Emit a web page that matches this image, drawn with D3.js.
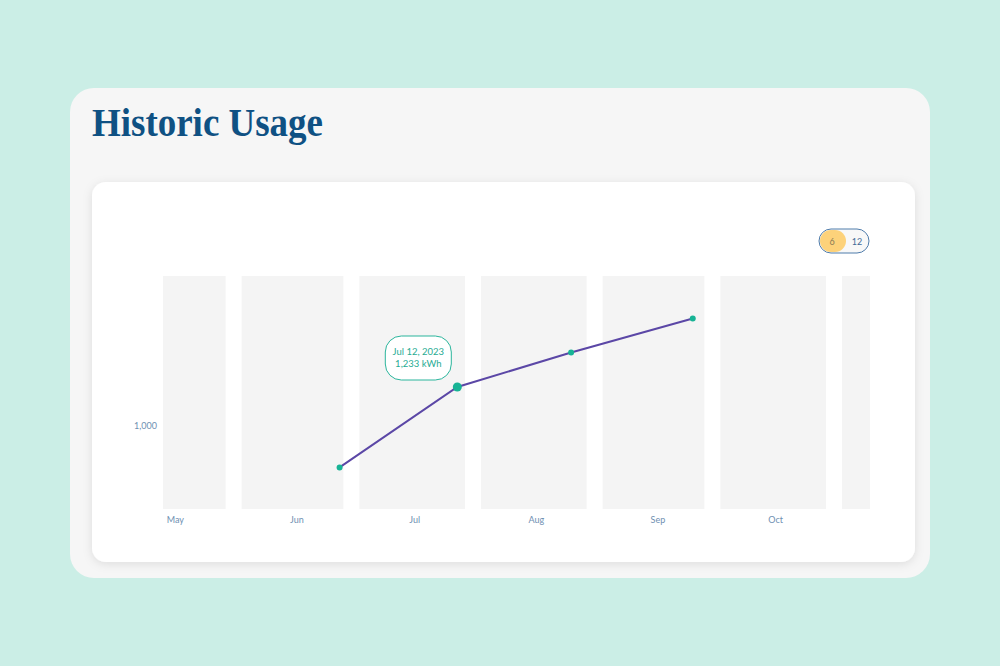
<!DOCTYPE html>
<html>
<head>
<meta charset="utf-8">
<script src="https://cdn.jsdelivr.net/npm/d3@7"></script>
<style>
  body { margin: 0; background: #cbeee6; }
  svg { display: block; }
  .axis text { font-family: Lato, "Open Sans", sans-serif; font-size: 9px; fill: #6f90b2; }
  .axis path, .axis line { display: none; }
</style>
</head>
<body>
<div id="chart"></div>
<script>
// Dados
const months = ["2023-05-01", "2023-06-01", "2023-07-01", "2023-08-01", "2023-09-01", "2023-10-01", "2023-11-01"];
const readDates = ["2023-06-28", "2023-07-28", "2023-08-26", "2023-09-26"];
const usageKwh = [750, 1233, 1440, 1645];
const yTicks = [1000];
const rangeOptions = ["6", "12"];
const tooltipLines = ["Jul 12, 2023", "1,233 kWh"];
const activeIndex = 1;

const parse = d3.timeParse("%Y-%m-%d");
const monthDates = months.map(parse);
const readings = readDates.map((d, i) => ({ date: parse(d), value: usageKwh[i] }));

const W = 1000, H = 666;
const svg = d3.select("#chart").append("svg")
    .attr("width", W)
    .attr("height", H);

// Sombras
const defs = svg.append("defs");
const shadow = defs.append("filter").attr("id", "shadow")
    .attr("x", "-10%").attr("y", "-10%").attr("width", "120%").attr("height", "130%");
shadow.append("feDropShadow")
    .attr("dx", 0).attr("dy", 2).attr("stdDeviation", 5)
    .attr("flood-color", "#000").attr("flood-opacity", 0.1);

// Cartão externo
svg.append("rect")
    .attr("x", 70).attr("y", 88)
    .attr("width", 860).attr("height", 490)
    .attr("rx", 24)
    .attr("fill", "#f6f6f6");

svg.append("text")
    .attr("x", 92).attr("y", 136)
    .attr("font-family", "'Liberation Serif', 'DejaVu Serif', serif")
    .attr("font-weight", 700)
    .attr("font-size", 39)
    .attr("textLength", 231)
    .attr("lengthAdjust", "spacingAndGlyphs")
    .attr("fill", "#0f5183")
    .text("Historic Usage");

// Cartão interno
svg.append("rect")
    .attr("x", 92).attr("y", 182)
    .attr("width", 823).attr("height", 380)
    .attr("rx", 14)
    .attr("fill", "#fff")
    .attr("filter", "url(#shadow)");

// Escalas
const x = d3.scaleTime()
    .domain([monthDates[0], monthDates[monthDates.length - 1]])
    .range([112, 834]);

const y = d3.scaleLinear()
    .domain([500, 1900])
    .range([509, 276]);

// Área de recorte
defs.append("clipPath").attr("id", "plot-clip")
    .append("rect")
    .attr("x", 163).attr("y", 270)
    .attr("width", 707).attr("height", 250);

const plot = svg.append("g").attr("clip-path", "url(#plot-clip)");

// Faixas mensais (inclui o mês parcial à direita)
const bandStarts = monthDates.concat([d3.timeMonth.offset(monthDates[monthDates.length - 1], 1)]);
const bands = d3.range(bandStarts.length - 1).map(i => [bandStarts[i], bandStarts[i + 1]]);

plot.selectAll(".band")
    .data(bands)
    .enter()
    .append("rect")
    .attr("class", "band")
    .attr("x", d => x(d[0]) + 8)
    .attr("y", y.range()[1])
    .attr("width", d => x(d[1]) - x(d[0]) - 16)
    .attr("height", y.range()[0] - y.range()[1])
    .attr("fill", "#f4f4f4");

// Eixos
svg.append("g")
    .attr("class", "axis")
    .attr("transform", `translate(0,${y.range()[0]})`)
    .call(d3.axisBottom(x)
        .tickValues(monthDates.slice(0, -1).map(d => d3.timeDay.offset(d, 16)))
        .tickSize(0)
        .tickPadding(8)
        .tickFormat(d3.timeFormat("%b")));

svg.append("g")
    .attr("class", "axis")
    .attr("transform", "translate(157,0)")
    .call(d3.axisLeft(y)
        .tickValues(yTicks)
        .tickSize(0)
        .tickPadding(0)
        .tickFormat(d3.format(",")));

// Linha
const line = d3.line()
    .x(d => x(d.date))
    .y(d => y(d.value));

svg.append("path")
    .datum(readings)
    .attr("fill", "none")
    .attr("stroke", "#5b47a6")
    .attr("stroke-width", 2)
    .attr("d", line);

svg.selectAll(".dot")
    .data(readings)
    .enter()
    .append("circle")
    .attr("class", "dot")
    .attr("cx", d => x(d.date))
    .attr("cy", d => y(d.value))
    .attr("r", (d, i) => i === activeIndex ? 4.5 : 3)
    .attr("fill", "#17b395");

// Tooltip
const active = readings[activeIndex];
const tip = svg.append("g")
    .attr("transform", `translate(${x(active.date) - 72},${y(active.value) - 51})`);

tip.append("rect")
    .attr("x", 0).attr("y", 0)
    .attr("width", 66).attr("height", 44)
    .attr("rx", 16)
    .attr("fill", "#fff")
    .attr("stroke", "#2bb59c")
    .attr("stroke-width", 1);

tip.selectAll("text")
    .data(tooltipLines)
    .enter()
    .append("text")
    .attr("x", 33)
    .attr("y", (d, i) => 19 + i * 12)
    .attr("text-anchor", "middle")
    .attr("font-family", "Lato, sans-serif")
    .attr("font-size", 9.5)
    .attr("fill", "#27ab93")
    .text(d => d);

// Seletor 6 / 12
const toggle = svg.append("g").attr("transform", "translate(819,229)");
toggle.append("rect")
    .attr("width", 50).attr("height", 24)
    .attr("rx", 12)
    .attr("fill", "#f8f8f8")
    .attr("stroke", "#4f7cab")
    .attr("stroke-width", 1);
toggle.append("rect")
    .attr("x", 1).attr("y", 1)
    .attr("width", 26).attr("height", 22)
    .attr("rx", 11)
    .attr("fill", "#fdd27a");
toggle.selectAll(".opt")
    .data(rangeOptions)
    .enter()
    .append("text")
    .attr("class", "opt")
    .attr("x", (d, i) => i === 0 ? 13 : 38)
    .attr("y", 15.5)
    .attr("text-anchor", "middle")
    .attr("font-family", "Lato, sans-serif")
    .attr("font-size", 9)
    .attr("fill", (d, i) => i === 0 ? "#8a7a55" : "#3f6a96")
    .text(d => d);
</script>
</body>
</html>
